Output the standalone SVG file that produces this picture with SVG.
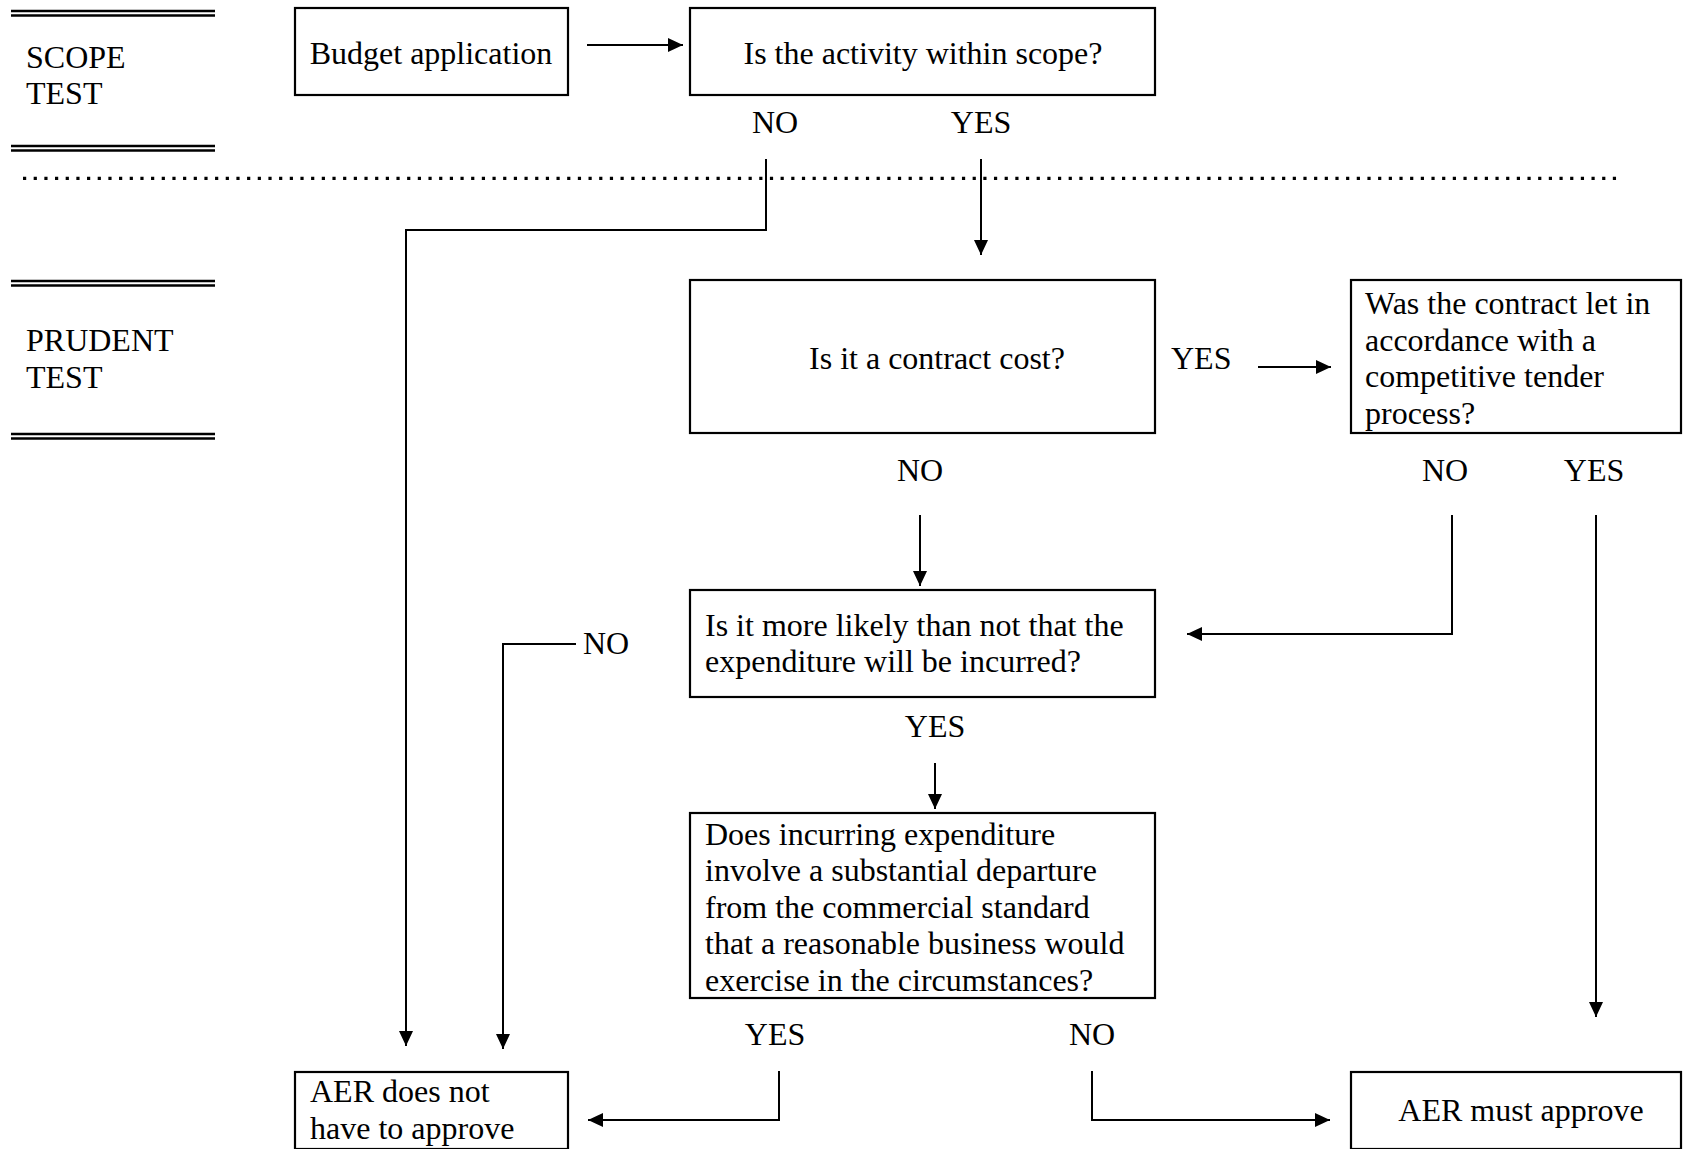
<svg xmlns="http://www.w3.org/2000/svg" width="1683" height="1149" viewBox="0 0 1683 1149">
<defs>
<marker id="ah" viewBox="0 0 15 14" refX="15" refY="7" markerWidth="15" markerHeight="14" markerUnits="userSpaceOnUse" orient="auto">
<path d="M0,0 L15,7 L0,14 z" fill="#000"/>
</marker>
<style>
text{font-family:"Liberation Serif","Times New Roman",serif;font-size:32px;fill:#000}
.box{fill:#fff;stroke:#000;stroke-width:2.2}
.c{fill:none;stroke:#000;stroke-width:2}
.a{fill:none;stroke:#000;stroke-width:2;marker-end:url(#ah)}
.dbl{stroke:#000;stroke-width:2.6}
.mid{text-anchor:middle}
</style>
</defs>
<rect width="1683" height="1149" fill="#fff"/>
<g id="section-labels">
<line class="dbl" x1="11" y1="11" x2="215" y2="11"/>
<line class="dbl" x1="11" y1="15.5" x2="215" y2="15.5"/>
<text x="26" y="68">SCOPE</text>
<text x="26" y="104">TEST</text>
<line class="dbl" x1="11" y1="146" x2="215" y2="146"/>
<line class="dbl" x1="11" y1="150.5" x2="215" y2="150.5"/>
<line class="dbl" x1="11" y1="281" x2="215" y2="281"/>
<line class="dbl" x1="11" y1="285.5" x2="215" y2="285.5"/>
<text x="26" y="351">PRUDENT</text>
<text x="26" y="388">TEST</text>
<line class="dbl" x1="11" y1="434" x2="215" y2="434"/>
<line class="dbl" x1="11" y1="438.5" x2="215" y2="438.5"/>
<line x1="23" y1="178.3" x2="1623" y2="178.3" stroke="#000" stroke-width="3.2" stroke-dasharray="3.2 7.47"/>
</g>
<g id="connectors">
<line class="a" x1="587" y1="45" x2="683" y2="45"/>
<polyline class="a" points="766,159 766,230 406,230 406,1046"/>
<line class="a" x1="981" y1="159" x2="981" y2="255"/>
<line class="a" x1="1258" y1="367" x2="1331" y2="367"/>
<line class="a" x1="920" y1="515" x2="920" y2="586"/>
<polyline class="a" points="1452,515 1452,634 1187,634"/>
<line class="a" x1="1596" y1="515" x2="1596" y2="1017"/>
<polyline class="a" points="576,644 503,644 503,1049"/>
<line class="a" x1="935" y1="763" x2="935" y2="809"/>
<polyline class="a" points="779,1071 779,1120 588,1120"/>
<polyline class="a" points="1092,1071 1092,1120 1330,1120"/>
</g>
<g id="budget">
<rect class="box" x="295" y="8" width="273" height="87"/>
<text class="mid" x="431" y="64">Budget application</text>
</g>
<g id="scope">
<rect class="box" x="690" y="8" width="465" height="87"/>
<text class="mid" x="923" y="64">Is the activity within scope?</text>
</g>
<g id="scope-labels">
<text class="mid" x="775" y="133">NO</text>
<text class="mid" x="981" y="133">YES</text>
</g>
<g id="contract">
<rect class="box" x="690" y="280" width="465" height="153"/>
<text class="mid" x="937" y="369">Is it a contract cost?</text>
</g>
<g id="contract-labels">
<text x="1171" y="369">YES</text>
<text class="mid" x="920" y="481">NO</text>
</g>
<g id="tender">
<rect class="box" x="1351" y="280" width="330" height="153"/>
<text x="1365" y="314">Was the contract let in</text>
<text x="1365" y="351">accordance with a</text>
<text x="1365" y="387">competitive tender</text>
<text x="1365" y="424">process?</text>
</g>
<g id="tender-labels">
<text class="mid" x="1445" y="481">NO</text>
<text class="mid" x="1594" y="481">YES</text>
</g>
<g id="likely">
<rect class="box" x="690" y="590" width="465" height="107"/>
<text x="705" y="636">Is it more likely than not that the</text>
<text x="705" y="672">expenditure will be incurred?</text>
</g>
<g id="likely-labels">
<text x="583" y="654">NO</text>
<text class="mid" x="935" y="737">YES</text>
</g>
<g id="departure">
<rect class="box" x="690" y="813" width="465" height="185"/>
<text x="705" y="845">Does incurring expenditure</text>
<text x="705" y="881">involve a substantial departure</text>
<text x="705" y="918">from the commercial standard</text>
<text x="705" y="954">that a reasonable business would</text>
<text x="705" y="991">exercise in the circumstances?</text>
</g>
<g id="departure-labels">
<text class="mid" x="775" y="1045">YES</text>
<text class="mid" x="1092" y="1045">NO</text>
</g>
<g id="not-approve">
<rect class="box" x="295" y="1072" width="273" height="77"/>
<text x="310" y="1102">AER does not</text>
<text x="310" y="1139">have to approve</text>
</g>
<g id="must-approve">
<rect class="box" x="1351" y="1072" width="330" height="77"/>
<text class="mid" x="1521" y="1121">AER must approve</text>
</g>
</svg>
